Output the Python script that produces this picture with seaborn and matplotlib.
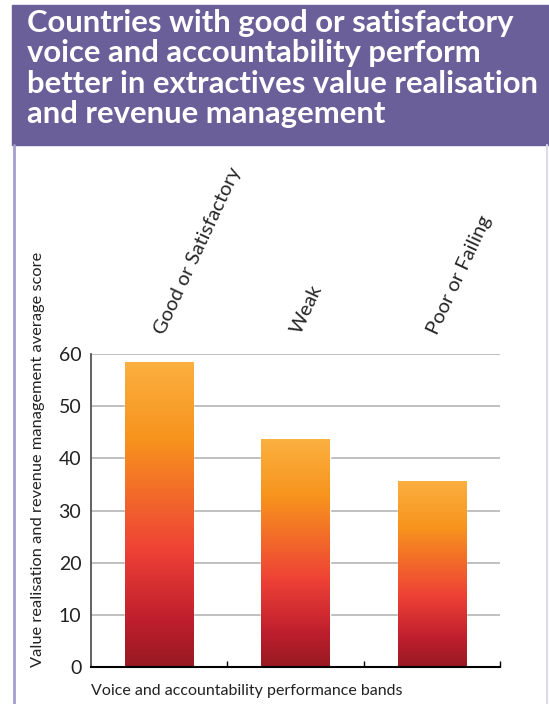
import numpy as np
import matplotlib
matplotlib.use("Agg")
import matplotlib.pyplot as plt
import seaborn as sns
from matplotlib.colors import LinearSegmentedColormap
from matplotlib.patches import Rectangle
from matplotlib.lines import Line2D

# Data
bands = ["Good or Satisfactory", "Weak", "Poor or Failing"]
scores = [58.5, 43.7, 35.7]
y_ticks = [0, 10, 20, 30, 40, 50, 60]

title = ("Countries with good or satisfactory\n"
         "voice and accountability perform\n"
         "better in extractives value realisation\n"
         "and revenue management")

sns.set_style("white")
plt.rcParams["font.family"] = ["Lato", "DejaVu Sans"]

fig = plt.figure(figsize=(5.49, 7.04), dpi=100)
ax = fig.add_axes([91 / 549, 1 - 667 / 704, 409 / 549, 313 / 704])

sns.barplot(x=bands, y=scores, width=0.5, color="#c4202f", ax=ax, zorder=3)

# vertical gradient inside each bar (dark red at the bottom, light orange on top)
grad = LinearSegmentedColormap.from_list("bar", [
    (0.0, "#971a22"), (0.15, "#be1e2d"), (0.38, "#ee4136"),
    (0.75, "#f7941d"), (1.0, "#fbb040")])
ramp = np.linspace(0, 1, 256).reshape(-1, 1)
for bar in ax.patches:
    x0, w, h = bar.get_x(), bar.get_width(), bar.get_height()
    im = ax.imshow(ramp, cmap=grad, origin="lower", aspect="auto",
                   extent=[x0, x0 + w, 0, h], zorder=4)
    im.set_clip_path(bar)

ax.set_xlim(-0.5, 2.5)
ax.set_ylim(0, 60)
ax.set_yticks(y_ticks)
ax.yaxis.grid(True, color="#b5b5b5", linewidth=1.2, zorder=0)
ax.set_axisbelow(True)

for side in ["top", "right"]:
    ax.spines[side].set_visible(False)
ax.spines["left"].set_color("#555555")
ax.spines["left"].set_linewidth(1.3)
ax.spines["bottom"].set_color("black")
ax.spines["bottom"].set_linewidth(1.5)
ax.spines["bottom"].set_zorder(6)

# category labels sit above the plot, rotated
ax.set_xticks(range(len(bands)))
ax.set_xticklabels(bands, rotation=65, ha="left", va="center",
                   rotation_mode="anchor", fontsize=14.5)
ax.tick_params(axis="x", which="major", top=True, labeltop=True,
               bottom=False, labelbottom=False, length=0, pad=15)
ax.set_xticks([0.5, 1.5, 2.5], minor=True)
ax.tick_params(axis="x", which="minor", bottom=True, top=False,
               direction="in", length=4, width=1, color="black")
ax.tick_params(axis="y", length=0, pad=7, labelsize=14, labelcolor="#222222")

ax.xaxis.set_label_position("bottom")
ax.set_xlabel("Voice and accountability performance bands", loc="left",
              fontsize=11.5, labelpad=9, color="#222222")
ax.set_ylabel("Value realisation and revenue management average score",
              loc="bottom", fontsize=11.8, labelpad=10, color="#222222")

# header band and frame lines
fig.patches.append(Rectangle((12 / 549, 1 - 145 / 704), 1, 140 / 704,
                             transform=fig.transFigure, color="#6a5f99",
                             zorder=0))
fig.lines.append(Line2D([14 / 549, 14 / 549], [0, 1 - 145 / 704],
                        transform=fig.transFigure, color="#a39ecb", lw=2))
fig.lines.append(Line2D([547 / 549, 547 / 549], [0, 1 - 145 / 704],
                        transform=fig.transFigure, color="#dcdaea", lw=1.5))
fig.text(27 / 549, 1 - 9 / 704, title, ha="left", va="top", color="white",
         fontsize=22.3, fontweight="bold", linespacing=1.1)

fig.savefig("out.png", dpi=100)
